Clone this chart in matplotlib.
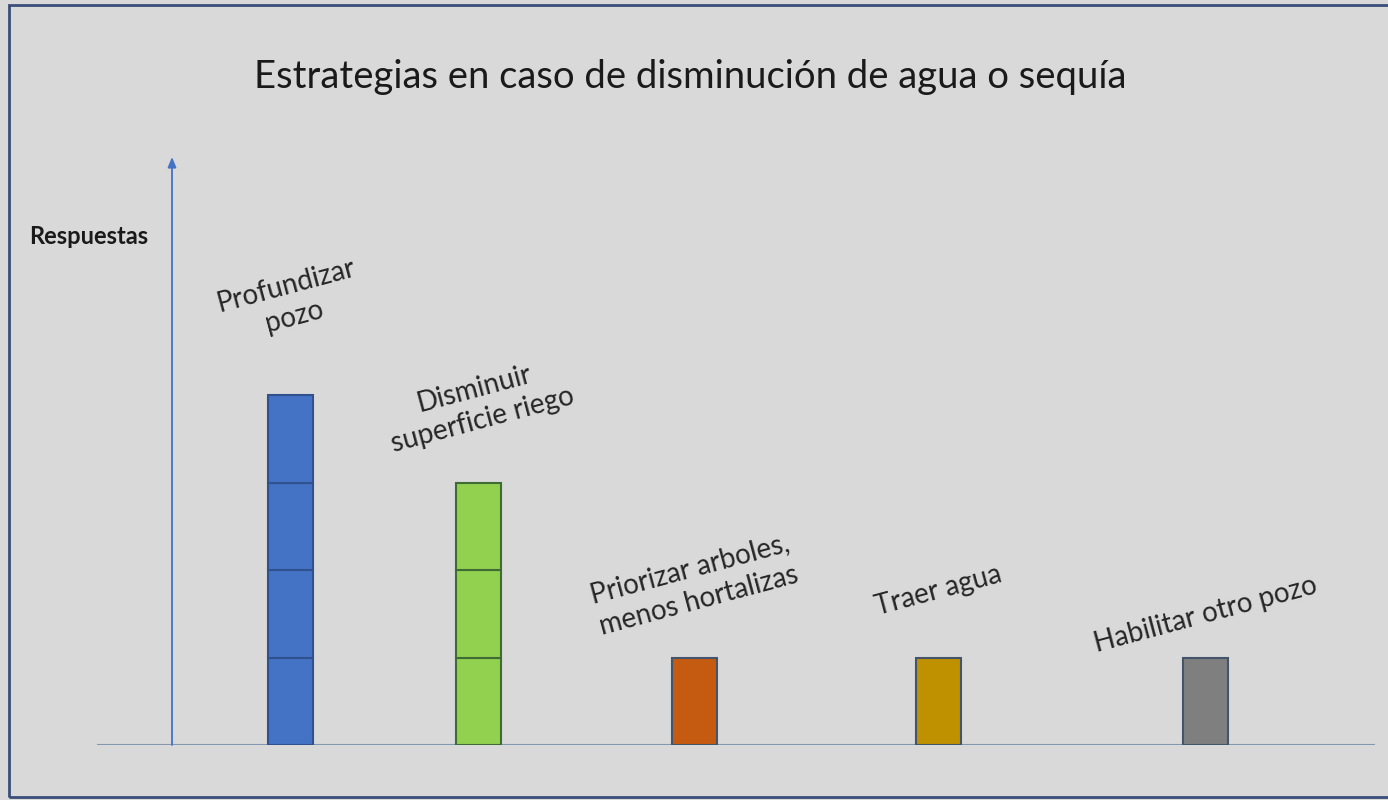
import numpy as np
import matplotlib.pyplot as plt
from matplotlib.patches import Rectangle

## data
categorias = [
	"Profundizar\npozo",
	"Disminuir\nsuperficie riego",
	"Priorizar arboles,\nmenos hortalizas",
	"Traer agua",
	"Habilitar otro pozo",
	]
respuestas = [4, 3, 1, 1, 1]
posiciones = [0.0, 1.0, 2.15, 3.45, 4.87]
colores = ["#4472C4", "#92D050", "#C55A11", "#BF9000", "#7F7F7F"]
bordes = ["#2F528F", "#3F6B35", "#44546A", "#44546A", "#44546A"]
## label offset above the bar top (y units)
label_dy = [1.07, 0.89, 0.83, 0.77, 0.49]

bg = "#D9D9D9"
plt.rcParams["font.family"] = ["Lato", "DejaVu Sans"]

if __name__ == "__main__":

	fig = plt.figure(
		figsize=(13.88, 8.0),
		dpi=100)
	fig.patch.set_facecolor(bg)
	ax = fig.add_axes([97 / 1388, 55 / 800, 1278 / 1388, 588 / 800])
	ax.set_facecolor(bg)
	ax.set_xlim(-1.027, 5.771)
	ax.set_ylim(0, 6.72)
	for s in ax.spines.values():
		s.set_visible(False)
	ax.set_xticks([])
	ax.set_yticks([])

	## stacked unit blocks
	for x, n, c, e in zip(posiciones, respuestas, colores, bordes):
		for k in range(n):
			ax.bar(
				x,
				1,
				bottom=k,
				width=0.24,
				color=c,
				edgecolor=e,
				linewidth=1.5,
				zorder=3)

	## axes lines
	ax.axhline(
		0,
		color="#8497B0",
		linewidth=1.5,
		zorder=2)
	ax.annotate(
		"",
		xy=(-0.628, 6.72),
		xytext=(-0.628, 0),
		arrowprops=dict(
			arrowstyle="-|>,head_length=0.6,head_width=0.25",
			color="#4472C4",
			linewidth=1.3,
			shrinkA=0,
			shrinkB=0),
		zorder=2)

	## bar labels
	for x, n, lab, dy in zip(posiciones, respuestas, categorias, label_dy):
		ax.text(
			x,
			n + dy,
			lab,
			rotation=15,
			ha="center",
			va="center",
			multialignment="center",
			fontsize=20,
			color="#262626",
			linespacing=1.3,
			rotation_mode="anchor",
			zorder=4)

	## titles
	fig.text(
		690 / 1388,
		1 - 77 / 800,
		"Estrategias en caso de disminución de agua o sequía",
		ha="center",
		va="center",
		fontsize=27.5,
		color="#1a1a1a")
	fig.text(
		89 / 1388,
		1 - 236 / 800,
		"Respuestas",
		ha="center",
		va="center",
		fontsize=17,
		fontweight="bold",
		color="#1a1a1a")

	## frame
	fig.add_artist(Rectangle(
		(9 / 1388, 3 / 800),
		1.2,
		(792) / 800,
		transform=fig.transFigure,
		fill=False,
		edgecolor="#3B4E7A",
		linewidth=2))

	fig.savefig("out.png", dpi=100, facecolor=bg)
	plt.close()
